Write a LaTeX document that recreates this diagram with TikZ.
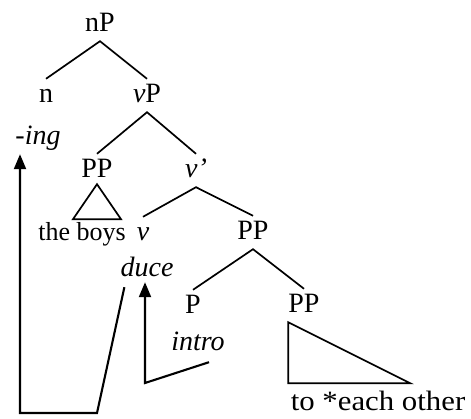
\documentclass[tikz,border=0pt]{standalone}
\usepackage{fontspec}
\setmainfont{Liberation Serif}
\usepackage{tikz}
\usetikzlibrary{
  arrows.meta,
  positioning,
  calc
}

\tikzset{
  rotulo/.style={font=\fontsize{28}{32}\selectfont, anchor=base, inner xsep=0pt, inner ysep=6pt, text height=18pt, text depth=3pt},
  galho/.style={line width=1.7pt},
  movimento/.style={line width=2.1pt, -{Triangle[length=15pt,width=12pt]}}
}

\begin{document}
\begin{tikzpicture}[x=1pt,y=-1pt]
        \useasboundingbox (0,0) rectangle (471,419);

        % Nós da árvore
        \node[rotulo] (nP) at (100,32) {nP};
        \node[rotulo] (n) at (46,103) {n};
        \node[rotulo] (vP) at (147,103) {\textit{v}P};
        \node[rotulo] (ing) at (38,145) {\textit{-ing}};
        \node[rotulo] (PPa) at (97,178) {PP};
        \node[rotulo] (vbar) at (196,178) {\textit{v'}};
        \node[rotulo] (boys) at (82,241) {\fontsize{26}{30}\selectfont the boys};
        \node[rotulo] (v) at (143,241) {\textit{v}};
        \node[rotulo] (PPb) at (253,240) {PP};
        \node[rotulo] (duce) at (147,277) {\textit{duce}};
        \node[rotulo] (P) at (193,314) {P};
        \node[rotulo] (intro) at (198,351) {\textit{intro}};
        \node[rotulo] (PPc) at (304,313) {PP};
        \node[rotulo] (other) at (378,410) {\scalebox{1.1}[1]{to *each other}};

        % Galhos
        \draw[galho] (n.north) -- (nP.south) -- (vP.north);
        \draw[galho] (PPa.north) -- (vP.south) -- (vbar.north);
        \draw[galho] (v.north) -- (vbar.south) -- (PPb.north);
        \draw[galho] (P.north) -- (PPb.south) -- (PPc.north);

        % Triângulos
        \draw[galho] ($(PPa.south)+(0,-3)$) -- ++(-24,35) -- ++(48,0) -- cycle;
        \draw[galho] (PPc.south west) -- ++(0,61) -- ++(122,0) -- cycle;

        % Movimentos
        \coordinate (m1) at (97,413);
        \coordinate (m2) at (20,413);
        \coordinate (m3) at (145,383);
        \draw[movimento] ($(duce.south west)+(4,1)$) -- (m1) -- (m2) -- (m2 |- ing.south);
        \draw[movimento] ($(intro.south)+(11,2)$) -- (m3) -- ($(m3 |- duce.south)+(0,-4)$);
    \end{tikzpicture}
\end{document}
